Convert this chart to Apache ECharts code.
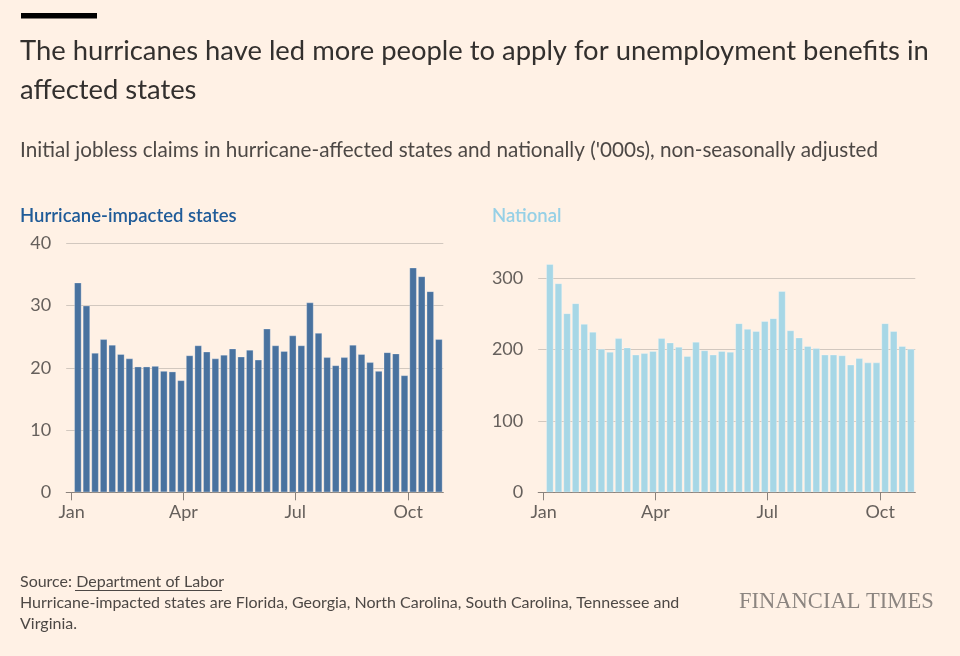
<!DOCTYPE html>
<html>
<head>
<meta charset="utf-8">
<script src="https://cdn.jsdelivr.net/npm/echarts@6/dist/echarts.min.js"></script>
<style>
html,body{margin:0;padding:0;background:#fff1e5;}
#c{width:960px;height:656px;}
</style>
</head>
<body>
<div id="c"></div>
<script>
// Week-ending dates (2024)
var weeks = ['2024-01-06','2024-01-13','2024-01-20','2024-01-27','2024-02-03','2024-02-10','2024-02-17','2024-02-24',
  '2024-03-02','2024-03-09','2024-03-16','2024-03-23','2024-03-30','2024-04-06','2024-04-13','2024-04-20','2024-04-27',
  '2024-05-04','2024-05-11','2024-05-18','2024-05-25','2024-06-01','2024-06-08','2024-06-15','2024-06-22','2024-06-29',
  '2024-07-06','2024-07-13','2024-07-20','2024-07-27','2024-08-03','2024-08-10','2024-08-17','2024-08-24','2024-08-31',
  '2024-09-07','2024-09-14','2024-09-21','2024-09-28','2024-10-05','2024-10-12','2024-10-19','2024-10-26'];
// Initial jobless claims, '000s
var hurricaneStates = [33.7,30.0,22.4,24.6,23.7,22.2,21.5,20.2,20.2,20.3,19.5,19.4,18.0,22.0,23.6,22.6,21.5,22.1,23.1,21.8,22.9,21.3,
  26.3,23.6,22.7,25.2,23.6,30.5,25.6,21.7,20.4,21.7,23.7,22.2,20.9,19.5,22.5,22.3,18.8,36.1,34.7,32.3,24.6];
var national = [320,293,251,265,236,225,201,197,216,203,193,195,198,216,210,204,191,211,199,193,198,197,
  237,229,226,240,244,282,227,217,205,202,193,193,192,179,188,182,182,237,226,205,201];
var tickDates = ['2024-01-01','2024-04-01','2024-07-01','2024-10-01'];
var tickLabels = ['Jan','Apr','Jul','Oct'];

// day-of-year position (days since 1 Jan 2024)
function dayOf(s){ var p=s.split('-'); return Math.round((Date.UTC(+p[0], +p[1]-1, +p[2]) - Date.UTC(2024,0,1)) / 86400000); }
var tickDays = tickDates.map(dayOf);
var xMin = -4.5, xMax = 302.6;
function monthLabel(v){
  for (var i=0;i<tickDays.length;i++){ if (Math.abs(v - tickDays[i]) < 0.5) return tickLabels[i]; }
  return '';
}
var FONT = 'Lato';
var axisCol = '#8a827c';
var gridCol = '#d2c8bf';
var labelCol = '#66605c';

function xAxisCfg(gi){
  return {
    type:'value', gridIndex:gi, min:xMin, max:xMax,
    axisLine:{show:true, onZero:false, lineStyle:{color:axisCol, width:1}},
    axisTick:{show:true, length:8, lineStyle:{color:axisCol}, customValues: tickDays},
    axisLabel:{show:true, customValues: tickDays, formatter: monthLabel, color:labelCol, fontSize:18, fontFamily:FONT, margin:11, hideOverlap:false},
    splitLine:{show:false}, minorTick:{show:false}
  };
}
function yAxisCfg(gi, max, interval){
  return {
    type:'value', gridIndex:gi, min:0, max:max, interval:interval,
    axisLine:{show:false}, axisTick:{show:false},
    axisLabel:{color:labelCol, fontSize:18, fontFamily:FONT, margin:15},
    splitLine:{show:true, lineStyle:{color:gridCol, width:1}}
  };
}

var chart = echarts.init(document.getElementById('c'), null, {renderer:'canvas'});
var option = {
  backgroundColor:'#fff1e5',
  animation:false,
  title:[
    {text:'The hurricanes have led more people to apply for unemployment benefits in\naffected states', left:20, top:31.5, padding:0,
      textStyle:{fontFamily:FONT, fontSize:27.4, fontWeight:'normal', color:'#33302e', lineHeight:39}},
    {text:"Initial jobless claims in hurricane-affected states and nationally ('000s), non-seasonally adjusted", left:20, top:138.5, padding:0,
      textStyle:{fontFamily:FONT, fontSize:20.7, fontWeight:'normal', color:'#4d4845', lineHeight:24}},
    {text:'Hurricane-impacted states', left:20, top:205.5, padding:0,
      textStyle:{fontFamily:FONT, fontSize:18.5, fontWeight:600, color:'#1f5b98', lineHeight:22}},
    {text:'National', left:492, top:205.5, padding:0,
      textStyle:{fontFamily:FONT, fontSize:18.5, fontWeight:600, color:'#96d0e6', lineHeight:22}},
    {text:'Source: Department of Labor', left:20, top:571, padding:0,
      textStyle:{fontFamily:FONT, fontSize:16, fontWeight:'normal', color:'#4d4845', lineHeight:21}},
    {text:'Hurricane-impacted states are Florida, Georgia, North Carolina, South Carolina, Tennessee and\nVirginia.', left:20, top:593, padding:0,
      textStyle:{fontFamily:FONT, fontSize:16, fontWeight:'normal', color:'#4d4845', lineHeight:20.5}}
  ],
  graphic:[
    {type:'rect', left:21, top:13, shape:{width:76, height:5.5}, style:{fill:'#000000'}},
    {type:'line', shape:{x1:75, y1:590.5, x2:222, y2:590.5}, style:{stroke:'#4d4845', lineWidth:1}},
    {type:'text', left:739, top:590, style:{text:'FINANCIAL TIMES', font:'23px "Liberation Serif"', fill:'#8c8580'}, scaleX:0.98}
  ],
  grid:[
    {left:66.2, width:377.1, top:243.3, bottom:163.7, containLabel:false},
    {left:538.2, width:377.1, top:278.3, bottom:163.7, containLabel:false}
  ],
  xAxis:[xAxisCfg(0), xAxisCfg(1)],
  yAxis:[yAxisCfg(0,40,10), yAxisCfg(1,300,100)],
  series:[
    {type:'bar', xAxisIndex:0, yAxisIndex:0, barWidth:7.4, clip:false,
      data: weeks.map(function(w,i){ return [dayOf(w), hurricaneStates[i]]; }),
      itemStyle:{color:'#49729f', borderColor:'rgba(255,255,255,0.35)', borderWidth:0.8}},
    {type:'bar', xAxisIndex:1, yAxisIndex:1, barWidth:7.4, clip:false,
      data: weeks.map(function(w,i){ return [dayOf(w), national[i]]; }),
      itemStyle:{color:'#a7d7e6', borderColor:'rgba(255,255,255,0.35)', borderWidth:0.8}}
  ]
};
chart.setOption(option);
</script>
</body>
</html>
